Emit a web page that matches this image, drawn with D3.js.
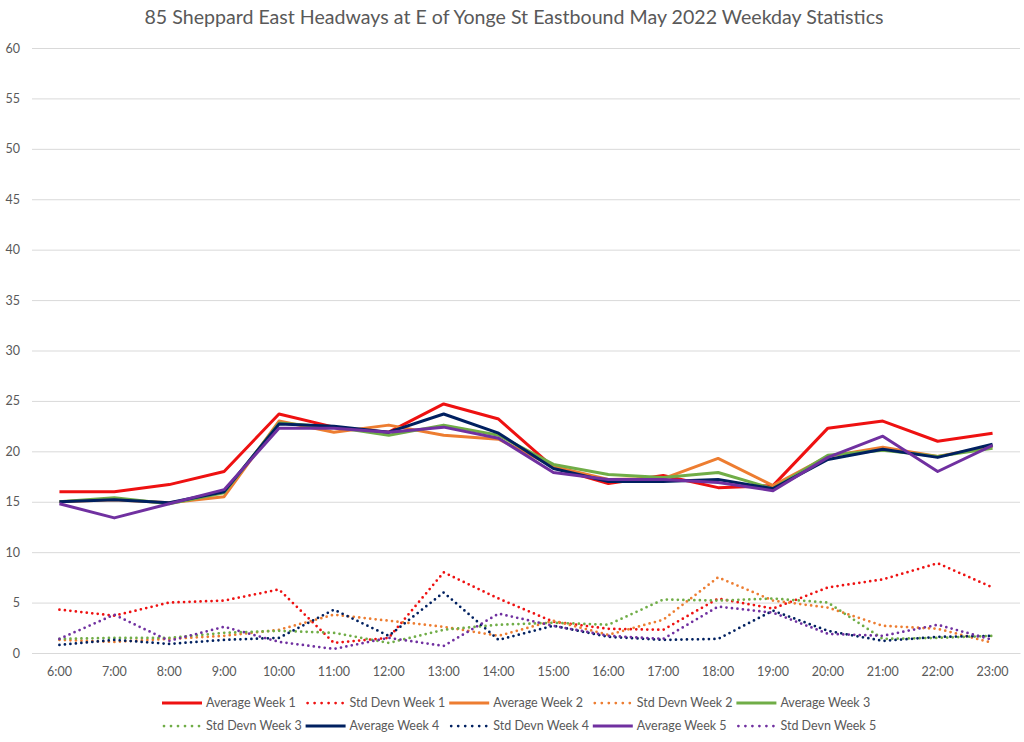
<!DOCTYPE html>
<html lang='en'>
<head>
  <meta charset='UTF-8'>
  <title>85 Sheppard East Headways</title>
  <script src="https://d3js.org/d3.v7.min.js"></script>
  <style>
    body { margin: 0; background: #fff; }
    text { font-family: Lato, 'Open Sans', sans-serif; fill: #595959; }
  </style>
</head>
<body>
  <div id="chart"></div>
  <script>
    const title = '85 Sheppard East Headways at E of Yonge St Eastbound May 2022 Weekday Statistics';
    const hours = ['6:00', '7:00', '8:00', '9:00', '10:00', '11:00', '12:00', '13:00', '14:00',
      '15:00', '16:00', '17:00', '18:00', '19:00', '20:00', '21:00', '22:00', '23:00'];
    const yTicks = [0, 5, 10, 15, 20, 25, 30, 35, 40, 45, 50, 55, 60];

    const avgWeek1 = [16.0, 16.0, 16.7, 18.0, 23.7, 22.4, 21.9, 24.7, 23.2, 18.4, 16.8, 17.6, 16.4, 16.6, 22.3, 23.0, 21.0, 21.8];
    const stdWeek1 = [4.3, 3.7, 5.0, 5.2, 6.3, 1.0, 1.5, 8.0, 5.4, 3.1, 2.4, 2.3, 5.4, 4.4, 6.5, 7.3, 8.9, 6.5];
    const avgWeek2 = [15.0, 15.2, 14.9, 15.5, 23.0, 21.9, 22.6, 21.6, 21.2, 18.5, 17.2, 17.3, 19.3, 16.6, 19.5, 20.4, 19.5, 20.5];
    const stdWeek2 = [1.3, 1.1, 1.4, 1.7, 2.3, 3.8, 3.2, 2.6, 1.7, 3.2, 1.8, 3.3, 7.5, 5.2, 4.5, 2.7, 2.4, 1.0];
    const avgWeek3 = [15.0, 15.4, 14.8, 15.9, 22.8, 22.4, 21.6, 22.6, 21.6, 18.7, 17.7, 17.4, 17.9, 16.3, 19.6, 20.1, 19.5, 20.3];
    const stdWeek3 = [1.4, 1.5, 1.5, 2.0, 2.2, 2.0, 1.0, 2.3, 2.8, 3.0, 2.8, 5.3, 5.2, 5.4, 5.0, 1.4, 1.5, 1.7];
    const avgWeek4 = [15.0, 15.2, 14.9, 16.0, 22.7, 22.5, 21.9, 23.7, 21.8, 18.3, 17.0, 17.0, 17.2, 16.3, 19.2, 20.2, 19.4, 20.7];
    const stdWeek4 = [0.8, 1.3, 0.9, 1.3, 1.5, 4.3, 1.7, 6.0, 1.3, 2.7, 1.6, 1.3, 1.4, 4.2, 2.2, 1.2, 1.6, 1.7];
    const avgWeek5 = [14.8, 13.4, 14.8, 16.2, 22.3, 22.3, 21.9, 22.4, 21.3, 17.9, 17.2, 17.2, 16.9, 16.1, 19.4, 21.5, 18.0, 20.6];
    const stdWeek5 = [1.4, 3.8, 1.2, 2.6, 1.1, 0.4, 1.5, 0.7, 3.9, 2.7, 1.7, 1.4, 4.6, 4.0, 1.9, 1.7, 2.8, 1.3];

    const series = [
      { name: 'Average Week 1', values: avgWeek1, color: '#ee1111', dotted: false },
      { name: 'Std Devn Week 1', values: stdWeek1, color: '#ee1111', dotted: true },
      { name: 'Average Week 2', values: avgWeek2, color: '#ed7d31', dotted: false },
      { name: 'Std Devn Week 2', values: stdWeek2, color: '#ed7d31', dotted: true },
      { name: 'Average Week 3', values: avgWeek3, color: '#70ad47', dotted: false },
      { name: 'Std Devn Week 3', values: stdWeek3, color: '#70ad47', dotted: true },
      { name: 'Average Week 4', values: avgWeek4, color: '#002060', dotted: false },
      { name: 'Std Devn Week 4', values: stdWeek4, color: '#002060', dotted: true },
      { name: 'Average Week 5', values: avgWeek5, color: '#7030a0', dotted: false },
      { name: 'Std Devn Week 5', values: stdWeek5, color: '#7030a0', dotted: true },
    ];

    const width = 1024;
    const height = 742;
    const margin = { top: 48, right: 4, bottom: 89, left: 32 };

    const svg = d3.select('#chart')
      .append('svg')
      .attr('width', width)
      .attr('height', height);

    svg.append('text')
      .attr('x', 514)
      .attr('y', 24)
      .attr('text-anchor', 'middle')
      .style('font-size', '19.6px')
      .text(title);

    const xScale = d3.scaleBand()
      .domain(hours)
      .range([margin.left, width - margin.right]);

    const yScale = d3.scaleLinear()
      .domain([0, 60])
      .range([height - margin.bottom, margin.top]);

    // 目盛り線
    const yAxis = d3.axisLeft(yScale)
      .tickValues(yTicks)
      .tickSize(-(width - margin.left - margin.right))
      .tickPadding(12);

    svg.append('g')
      .attr('class', 'axis axis-y')
      .attr('transform', `translate(${margin.left}, 0)`)
      .call(yAxis)
      .call((g) => g.select('.domain').remove())
      .call((g) => g.selectAll('line').attr('stroke', '#d9d9d9'))
      .call((g) => g.selectAll('text').style('font-size', '12.5px').attr('fill', '#595959'));

    const xAxis = d3.axisBottom(xScale)
      .tickSize(0)
      .tickPadding(14);

    svg.append('g')
      .attr('class', 'axis axis-x')
      .attr('transform', `translate(0, ${height - margin.bottom})`)
      .call(xAxis)
      .call((g) => g.select('.domain').attr('stroke', '#d9d9d9'))
      .call((g) => g.selectAll('text').style('font-size', '12.5px').attr('fill', '#595959'));

    // 線
    const line = d3.line()
      .x((d, i) => xScale(hours[i]) + xScale.bandwidth() / 2)
      .y((d) => yScale(d));

    svg.append('g')
      .selectAll('path')
      .data(series)
      .join('path')
      .attr('fill', 'none')
      .attr('stroke', (d) => d.color)
      .attr('stroke-width', (d) => d.dotted ? 2.75 : 3)
      .attr('stroke-linecap', (d) => d.dotted ? 'round' : 'butt')
      .attr('stroke-linejoin', 'round')
      .attr('stroke-dasharray', (d) => d.dotted ? '0 5.5' : null)
      .attr('d', (d) => line(d.values));

    // 凡例
    const colW = 143.6;
    const perRow = 5;
    const startX = 521 - (colW * perRow) / 2;

    const legend = svg.append('g').attr('class', 'legend');
    const items = legend.selectAll('g')
      .data(series)
      .join('g')
      .attr('transform', (d, i) =>
        `translate(${startX + (i % perRow) * colW}, ${703 + Math.floor(i / perRow) * 23})`);

    items.append('line')
      .attr('x1', (d) => d.dotted ? 2 : 0)
      .attr('x2', (d) => d.dotted ? 38 : 40)
      .attr('stroke', (d) => d.color)
      .attr('stroke-width', (d) => d.dotted ? 2.75 : 3)
      .attr('stroke-linecap', (d) => d.dotted ? 'round' : 'butt')
      .attr('stroke-dasharray', (d) => d.dotted ? '0 7' : null);

    items.append('text')
      .attr('x', 44)
      .attr('dy', '0.35em')
      .style('font-size', '12.5px')
      .text((d) => d.name);
  </script>
</body>
</html>
